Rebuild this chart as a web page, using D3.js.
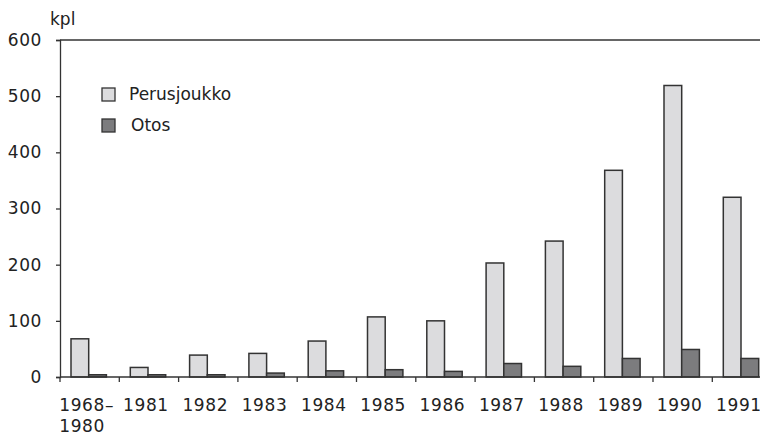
<!DOCTYPE html>
<html><head><meta charset="utf-8">
<script src="https://cdn.jsdelivr.net/npm/d3@7/dist/d3.min.js"></script>
<style>
html,body{margin:0;padding:0;background:#fff;overflow:hidden}
svg{display:block}
text{font-family:"DejaVu Sans",sans-serif;fill:#222}
</style></head>
<body>
<svg id="chart" width="760" height="436"></svg>
<script>
const categories = ["1968–1980","1981","1982","1983","1984","1985","1986","1987","1988","1989","1990","1991"];
const perusjoukko = [68,17,39,42,64,107,100,203,242,368,519,320];
const otos = [4,4,4,7,11,13,10,24,19,33,49,33];
const yTicks = [0,100,200,300,400,500,600];
const seriesNames = ["Perusjoukko","Otos"];
const seriesColors = ["#dcdcde","#7c7c7e"];
const strokeColor = "#333";

const svg = d3.select("#chart");
const mLeft = 60, mTop = 40, mBottom = 377, mRight = 771.6;
const x = d3.scaleBand().domain(categories).range([mLeft, mRight]).padding(0);
const y = d3.scaleLinear().domain([0,600]).range([mBottom, mTop]);
const barW = 17.7, off = 11;
const fs = 17;

// top border
svg.append("line").attr("x1",mLeft).attr("x2",mRight).attr("y1",y(600)).attr("y2",y(600))
  .attr("stroke",strokeColor).attr("stroke-width",1.3);

// bars
const g = svg.append("g");
[perusjoukko, otos].forEach((vals, si) => {
  g.selectAll(".b"+si).data(categories).enter().append("rect")
    .attr("x", c => x(c) + off + si*barW)
    .attr("y", (c,i) => y(vals[i]))
    .attr("width", barW)
    .attr("height", (c,i) => y(0) - y(vals[i]))
    .attr("fill", seriesColors[si])
    .attr("stroke", strokeColor).attr("stroke-width", 1.5);
});

// y axis
const yAxis = d3.axisLeft(y).tickValues(yTicks).tickSize(4).tickPadding(14);
const ya = svg.append("g").attr("transform",`translate(${mLeft},0)`).call(yAxis);
ya.select(".domain").attr("stroke",strokeColor).attr("stroke-width",1.3);
ya.selectAll(".tick line").attr("stroke",strokeColor).attr("stroke-width",1.3);
ya.selectAll(".tick text").attr("font-size",fs).attr("font-family","DejaVu Sans").attr("fill","#222").attr("letter-spacing","0.6px");

// x baseline and ticks at band boundaries
svg.append("line").attr("x1",mLeft).attr("x2",mRight).attr("y1",y(0)).attr("y2",y(0))
  .attr("stroke",strokeColor).attr("stroke-width",1.5);
const bounds = categories.map(c => x(c)).concat([mRight]);
svg.selectAll(".xt").data(bounds).enter().append("line")
  .attr("x1",d=>d).attr("x2",d=>d).attr("y1",y(0)).attr("y2",y(0)+5)
  .attr("stroke",strokeColor).attr("stroke-width",1.3);

// x labels
categories.forEach((c) => {
  const cx = x(c) + x.bandwidth()/2 - 3;
  const parts = c.includes("–") ? [c.split("–")[0]+"–", c.split("–")[1]] : [c];
  const t = svg.append("text").attr("font-size",fs).attr("letter-spacing","0.6px")
    .attr("x",cx).attr("y",411).attr("text-anchor","middle").text(parts[0]);
  if (parts.length>1) {
    const w = t.node().getComputedTextLength();
    t.attr("text-anchor","start").attr("x", cx - w/2);
    svg.append("text").attr("font-size",fs).attr("letter-spacing","0.6px")
      .attr("x", cx - w/2).attr("y",432).text(parts[1]);
  }
});

// unit label
svg.append("text").attr("x",50).attr("y",25).attr("font-size",fs).text("kpl");

// legend
const legY = [88, 119];
seriesNames.forEach((n,i) => {
  svg.append("rect").attr("x",102).attr("y",legY[i]).attr("width",13).attr("height",13)
    .attr("fill",seriesColors[i]).attr("stroke",strokeColor).attr("stroke-width",1.3);
  svg.append("text").attr("x",129 + (i?2:0)).attr("y",legY[i]+12).attr("font-size",fs).text(n);
});
</script>
</body></html>
